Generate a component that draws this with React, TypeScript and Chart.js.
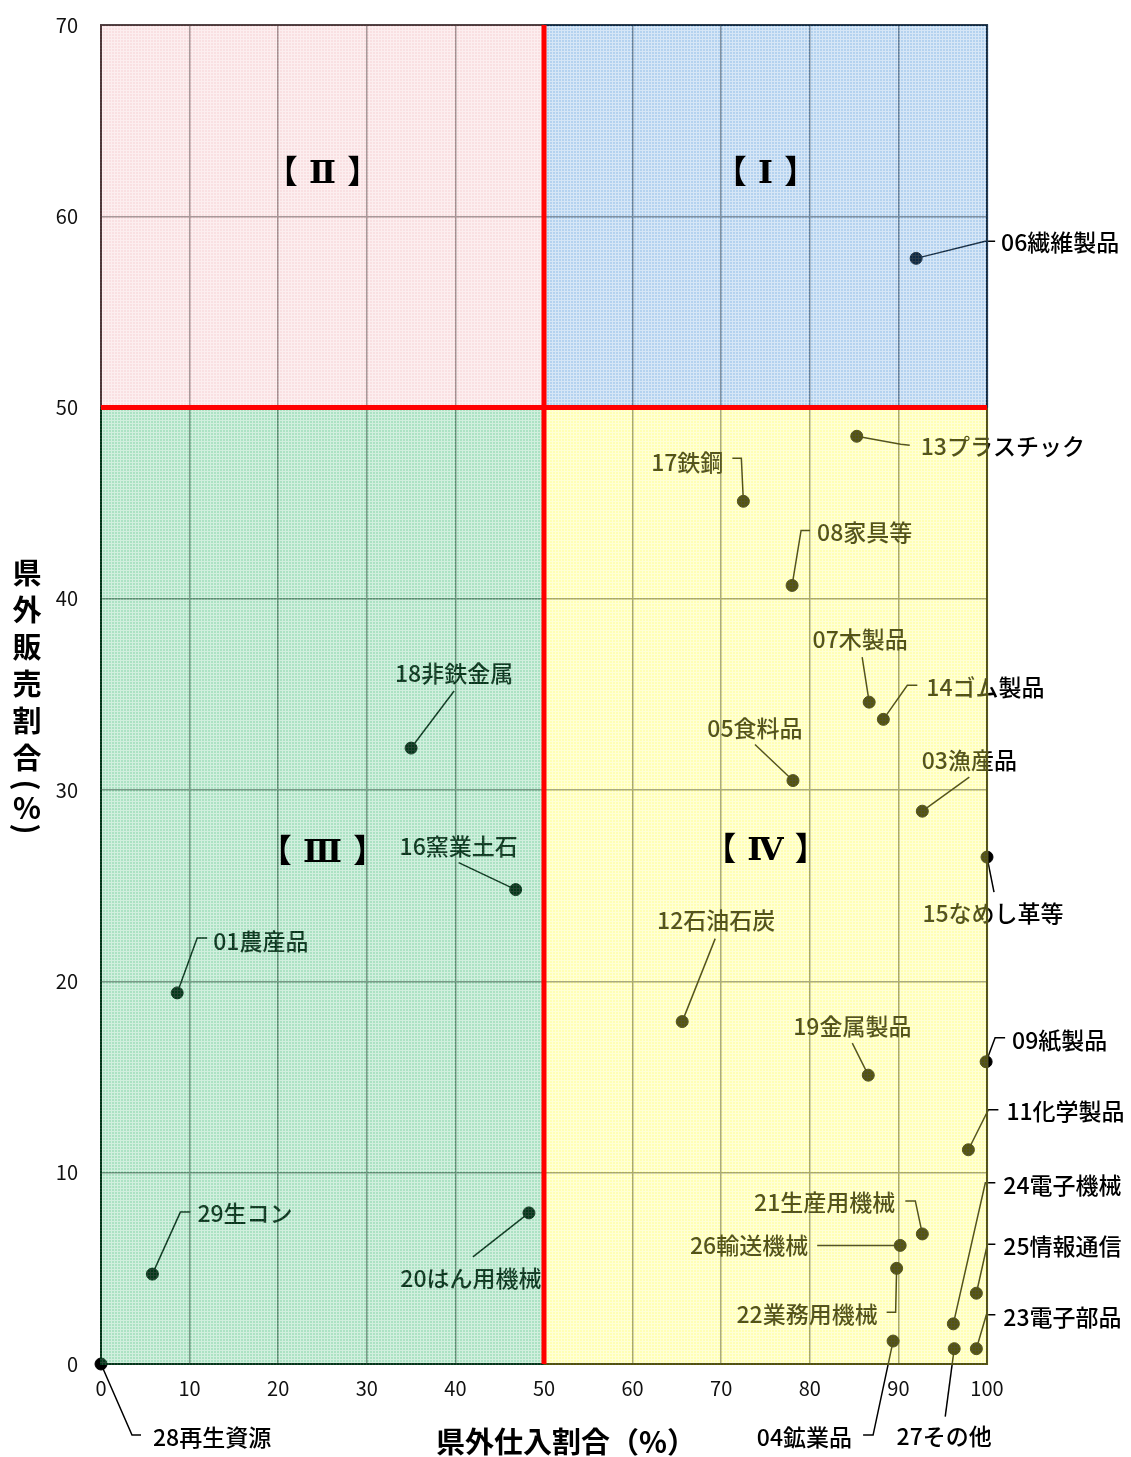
import React, { useEffect, useRef } from "react";
import { Chart, registerables } from "chart.js";

Chart.register(...registerables);

// ---- data ----
const categories = [
  "01農産品", "03漁産品", "04鉱業品", "05食料品", "06繊維製品", "07木製品", "08家具等",
  "09紙製品", "11化学製品", "12石油石炭", "13プラスチック", "14ゴム製品", "15なめし革等",
  "16窯業土石", "17鉄鋼", "18非鉄金属", "19金属製品", "20はん用機械", "21生産用機械",
  "22業務用機械", "23電子部品", "24電子機械", "25情報通信", "26輸送機械", "27その他",
  "28再生資源", "29生コン",
];
// 県外仕入割合 (%)
const purchaseOutside = [
  8.6, 92.7, 89.4, 78.1, 92.0, 86.7, 78.0,
  99.9, 97.9, 65.6, 85.3, 88.3, 100.0,
  46.8, 72.5, 35.0, 86.6, 48.3, 92.7,
  89.8, 98.8, 96.2, 98.8, 90.2, 96.3,
  0.0, 5.8,
];
// 県外販売割合 (%)
const salesOutside = [
  19.4, 28.9, 1.2, 30.5, 57.8, 34.6, 40.7,
  15.8, 11.2, 17.9, 48.5, 33.7, 26.5,
  24.8, 45.1, 32.2, 15.1, 7.9, 6.8,
  5.0, 0.8, 2.1, 3.7, 6.2, 0.8,
  0.0, 4.7,
];
const xTickValues = [0, 10, 20, 30, 40, 50, 60, 70, 80, 90, 100];
const yTickValues = [0, 10, 20, 30, 40, 50, 60, 70];
const threshold = 50;
const quadrantNames = ["【 Ⅰ 】", "【 Ⅱ 】", "【 Ⅲ 】", "【 Ⅳ 】"];
const quadrantLabelX = [75, 25, 25, 75];
const quadrantLabelY = [62.2, 62.2, 26.7, 26.8];
const xTitle = "県外仕入割合（%）";
const yTitle = ["県", "外", "販", "売", "割", "合", "(", "%", ")"];

// ---- label layout (pixel offsets from each point) ----
type Lay = { t: [number, number]; a: "left" | "right" | "center"; p: number[][] };
const labelLayout: Lay[] = [
  { t: [36, -52], a: "left", p: [[0, 0], [20, -55], [30, -55]] },
  { t: [47, -51], a: "center", p: [[0, 0], [47, -34]] },
  { t: [-41, 96], a: "right", p: [[0, 0], [-20, 94], [-30, 94]] },
  { t: [-38, -52], a: "center", p: [[0, 0], [-38, -36]] },
  { t: [85, -16], a: "left", p: [[0, 0], [69, -17], [79, -17]] },
  { t: [-9, -63], a: "center", p: [[0, 0], [-7, -45]] },
  { t: [25, -53], a: "left", p: [[0, 0], [9, -55], [18, -55]] },
  { t: [26, -22], a: "left", p: [[0, 0], [9, -24], [19, -24]] },
  { t: [38, -38], a: "left", p: [[0, 0], [20, -40], [30, -40]] },
  { t: [34, -101], a: "center", p: [[0, 0], [33, -83]] },
  { t: [64, 10], a: "left", p: [[0, 0], [44, 8], [53, 9]] },
  { t: [43, -32], a: "left", p: [[0, 0], [24, -34], [34, -34]] },
  { t: [6, 56], a: "center", p: [[0, 0], [7, 35]] },
  { t: [-57, -43], a: "center", p: [[0, 0], [-57, -27]] },
  { t: [-20, -39], a: "right", p: [[0, 0], [-2, -43], [-11, -43]] },
  { t: [43, -75], a: "center", p: [[0, 0], [43, -57]] },
  { t: [-16, -49], a: "center", p: [[0, 0], [-16, -32]] },
  { t: [-58, 65], a: "center", p: [[0, 0], [-56, 44]] },
  { t: [-27, -32], a: "right", p: [[0, 0], [-7, -33], [-17, -33]] },
  { t: [-19, 46], a: "right", p: [[0, 0], [-1, 44], [-10, 44]] },
  { t: [27, -31], a: "left", p: [[0, 0], [10, -34], [19, -34]] },
  { t: [50, -139], a: "left", p: [[0, 0], [32, -141], [42, -141]] },
  { t: [27, -47], a: "left", p: [[0, 0], [11, -49], [19, -49]] },
  { t: [-92, 0], a: "right", p: [[0, 0], [-83, 0]] },
  { t: [-10, 88], a: "center", p: [[0, 0], [-9, 68]] },
  { t: [52, 73], a: "left", p: [[0, 0], [31, 71], [40, 71]] },
  { t: [45, -61], a: "left", p: [[0, 0], [28, -62], [38, -62]] },
];

const JP = "'Noto Sans CJK JP', 'Noto Sans', sans-serif";
const OVERLAY_ALPHA = 0.33;
// quadrant overlay colours: I (top-right), II (top-left), III (bottom-left), IV (bottom-right)
const quadrantColors = [
  [30, 118, 205],
  [235, 160, 168],
  [0, 168, 75],
  [255, 255, 30],
];

function makePattern(ctx: CanvasRenderingContext2D, rgb: number[]) {
  const c = document.createElement("canvas");
  c.width = 3;
  c.height = 3;
  const g = c.getContext("2d")!;
  g.fillStyle = `rgb(${rgb[0]},${rgb[1]},${rgb[2]})`;
  g.fillRect(0, 0, 3, 3);
  const l = rgb.map((v) => Math.round(v + (255 - v) * 0.45));
  g.fillStyle = `rgb(${l[0]},${l[1]},${l[2]})`;
  g.fillRect(0, 0, 3, 1);
  g.fillRect(0, 0, 1, 3);
  return ctx.createPattern(c, "repeat")!;
}

const overlayPlugin = {
  id: "overlayPlugin",
  beforeDatasetsDraw(chart: any) {
    const { ctx, chartArea: ca } = chart;
    ctx.save();
    ctx.strokeStyle = "#000";
    ctx.lineWidth = 2;
    ctx.strokeRect(ca.left, ca.top, ca.right - ca.left, ca.bottom - ca.top);
    ctx.restore();
  },
  afterDatasetsDraw(chart: any) {
    const { ctx, chartArea: ca, scales } = chart;
    const xs = scales.x;
    const ys = scales.y;
    ctx.save();
    // leader lines & labels
    ctx.strokeStyle = "#000";
    ctx.lineWidth = 1.5;
    ctx.fillStyle = "#000";
    ctx.font = `500 23px ${JP}`;
    ctx.textBaseline = "middle";
    categories.forEach((name, i) => {
      const px = xs.getPixelForValue(purchaseOutside[i]);
      const py = ys.getPixelForValue(salesOutside[i]);
      const lay = labelLayout[i];
      ctx.beginPath();
      lay.p.forEach((pt, k) => {
        if (k === 0) ctx.moveTo(px + pt[0], py + pt[1]);
        else ctx.lineTo(px + pt[0], py + pt[1]);
      });
      ctx.stroke();
      ctx.textAlign = lay.a;
      ctx.fillText(name, px + lay.t[0], py + lay.t[1]);
    });

    // quadrant overlays
    const xm = xs.getPixelForValue(threshold);
    const ym = ys.getPixelForValue(threshold);
    const rects = [
      [xm, ca.top - 1, ca.right + 1.5, ym],
      [ca.left - 1, ca.top - 1, xm, ym],
      [ca.left - 1, ym, xm, ca.bottom + 1],
      [xm, ym, ca.right + 1.5, ca.bottom + 1],
    ];
    ctx.globalAlpha = OVERLAY_ALPHA;
    rects.forEach((r, i) => {
      ctx.fillStyle = makePattern(ctx, quadrantColors[i]);
      ctx.fillRect(r[0], r[1], r[2] - r[0], r[3] - r[1]);
    });
    ctx.globalAlpha = 1;

    // red threshold lines
    ctx.strokeStyle = "#ff0000";
    ctx.lineWidth = 5;
    ctx.beginPath();
    ctx.moveTo(xm, ca.top);
    ctx.lineTo(xm, ca.bottom);
    ctx.moveTo(ca.left, ym);
    ctx.lineTo(ca.right, ym);
    ctx.stroke();

    // quadrant labels
    ctx.fillStyle = "#000";
    ctx.font = `bold 32px 'DejaVu Serif', ${JP}`;
    ctx.textAlign = "center";
    ctx.textBaseline = "middle";
    quadrantNames.forEach((q, i) => {
      ctx.fillText(q, xs.getPixelForValue(quadrantLabelX[i]), ys.getPixelForValue(quadrantLabelY[i]));
    });

    // axis titles
    ctx.font = `bold 29px ${JP}`;
    ctx.fillText(xTitle, (ca.left + ca.right) / 2 + 22, 1442);
    const ySteps = [0, 37, 74, 111, 148, 185, 212, 235, 256];
    yTitle.forEach((ch, k) => {
      const cy = 573 + ySteps[k];
      if (ch === "(" || ch === ")") {
        ctx.save();
        ctx.translate(27, cy);
        ctx.rotate(Math.PI / 2);
        ctx.fillText(ch, 0, 0);
        ctx.restore();
      } else {
        ctx.fillText(ch, 27, cy);
      }
    });
    ctx.restore();
  },
};

export default function App() {
  const ref = useRef<HTMLCanvasElement | null>(null);
  useEffect(() => {
    document.body.style.margin = "0";
    const canvas = ref.current!;
    const chart = new Chart(canvas, {
      type: "scatter",
      data: {
        datasets: [
          {
            label: "業種",
            data: purchaseOutside.map((x, i) => ({ x, y: salesOutside[i] })),
            backgroundColor: "#000",
            borderColor: "#000",
            pointRadius: 6,
            pointHoverRadius: 6,
            clip: false as any,
          },
        ],
      },
      options: {
        responsive: false,
        animation: false,
        events: [],
        layout: { padding: { top: 25, right: 144, left: 0, bottom: 0 } },
        plugins: { legend: { display: false }, tooltip: { enabled: false } },
        scales: {
          x: {
            type: "linear",
            min: 0,
            max: 100,
            afterBuildTicks: (s: any) => {
              s.ticks = xTickValues.map((v) => ({ value: v }));
            },
            afterFit: (s: any) => {
              s.height = 93;
              s.paddingLeft = 0;
              s.paddingRight = 0;
            },
            grid: { color: "#808080", lineWidth: 1.5, drawTicks: false },
            border: { display: false },
            ticks: { color: "#111", font: { size: 20, family: JP }, padding: 12, maxRotation: 0 },
          },
          y: {
            type: "linear",
            min: 0,
            max: 70,
            afterBuildTicks: (s: any) => {
              s.ticks = yTickValues.map((v) => ({ value: v }));
            },
            afterFit: (s: any) => {
              s.width = 101;
              s.paddingTop = 0;
              s.paddingBottom = 0;
            },
            grid: { color: "#808080", lineWidth: 1.5, drawTicks: false },
            border: { display: false },
            ticks: { color: "#111", font: { size: 20, family: JP }, padding: 23 },
          },
        },
      },
      plugins: [overlayPlugin],
    });
    return () => chart.destroy();
  }, []);
  return (
    <canvas
      ref={ref}
      width={1131}
      height={1457}
      style={{ display: "block", width: 1131, height: 1457 }}
    />
  );
}
